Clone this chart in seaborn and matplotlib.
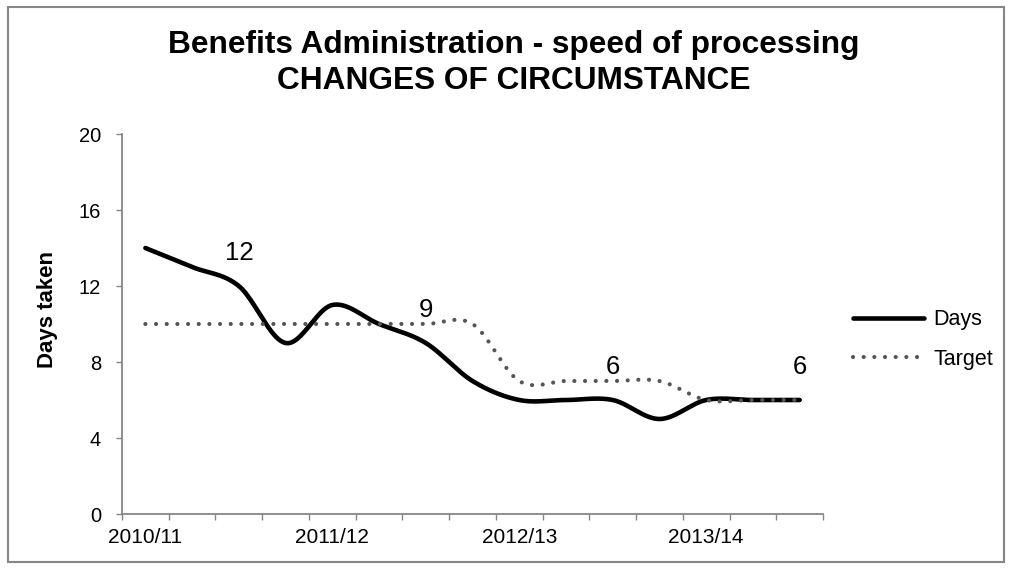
import numpy as np
import pandas as pd
import seaborn as sns
import matplotlib.pyplot as plt
from matplotlib.patches import Rectangle

# quarterly figures, 2010/11 Q1 .. 2013/14 Q3
quarters = [f"{y} Q{q}" for y in ["2010/11", "2011/12", "2012/13", "2013/14"] for q in range(1, 5)][:15]
tick_labels = ["2010/11", "", "", "", "2011/12", "", "", "", "2012/13", "", "", "", "2013/14", "", ""]
days = [14, 13, 12, 9, 11, 10, 9, 7, 6, 6, 6, 5, 6, 6, 6]
target = [10, 10, 10, 10, 10, 10, 10, 10, 7, 7, 7, 7, 6, 6, 6]
labelled = [2, 6, 10, 14]


def smooth(values, n=40):
    # catmull-rom curve through the points, like excel's smoothed line
    x = np.arange(len(values), dtype=float)
    y = np.asarray(values, dtype=float)
    px = np.r_[x[0], x, x[-1]]
    py = np.r_[y[0], y, y[-1]]
    t = np.linspace(0, 1, n, endpoint=False)
    h00 = 2 * t**3 - 3 * t**2 + 1
    h10 = t**3 - 2 * t**2 + t
    h01 = -2 * t**3 + 3 * t**2
    h11 = t**3 - t**2
    xs, ys = [], []
    for i in range(1, len(px) - 2):
        for p, out in ((px, xs), (py, ys)):
            m0 = (p[i + 1] - p[i - 1]) / 2
            m1 = (p[i + 2] - p[i]) / 2
            out.append(h00 * p[i] + h10 * m0 + h01 * p[i + 1] + h11 * m1)
    xs.append([x[-1]])
    ys.append([y[-1]])
    return pd.DataFrame({"x": np.concatenate(xs), "value": np.concatenate(ys)})


sns.set_style("white")
plt.rcParams["font.family"] = ["Liberation Sans", "DejaVu Sans"]
plt.rcParams.update({"text.color": "black", "xtick.labelcolor": "black",
                     "ytick.labelcolor": "black"})

fig = plt.figure(figsize=(10.11, 5.68), dpi=100)
ax = fig.add_axes([122 / 1011, 54 / 568, 701 / 1011, 380 / 568])

sns.lineplot(data=smooth(days), x="x", y="value", ax=ax, color="black", lw=3.3,
             sort=False, estimator=None, label="Days", solid_capstyle="round")
sns.lineplot(data=smooth(target), x="x", y="value", ax=ax, color="#555555", lw=3.0,
             sort=False, estimator=None, label="Target",
             linestyle=(0, (0.01, 2.55)), dash_capstyle="round")

for i in labelled:
    ax.annotate(str(days[i]), (i, days[i]), xytext=(0, 24), textcoords="offset points",
                ha="center", va="center", fontsize=18.5)

ax.set_xlim(-0.5, len(days) - 0.5)
ax.set_ylim(0, 20)
ax.set_yticks(range(0, 21, 4))
ax.set_xticks(range(len(days)))
ax.set_xticklabels(tick_labels)
ax.set_xticks(np.arange(-0.5, len(days), 1), minor=True)
ax.tick_params(axis="x", which="major", bottom=True, length=0, pad=10, labelsize=15)
ax.tick_params(axis="x", which="minor", bottom=True, length=4, width=1, color="#868686",
               direction="out")
ax.tick_params(axis="y", left=True, length=4, width=1, color="#868686", direction="out",
               pad=11, labelsize=14.5)
ax.set_xlabel("")
ax.set_ylabel("")
for side in ["top", "right"]:
    ax.spines[side].set_visible(False)
for side in ["left", "bottom"]:
    ax.spines[side].set_color("#868686")
    ax.spines[side].set_linewidth(1.3)

fig.text(514 / 1011, 1 - 53 / 568, "Benefits Administration - speed of processing",
         ha="center", va="baseline", fontsize=22.8, fontweight="bold")
fig.text(514 / 1011, 1 - 89 / 568, "CHANGES OF CIRCUMSTANCE",
         ha="center", va="baseline", fontsize=22.8, fontweight="bold")
fig.text(47 / 1011, 1 - 309 / 568, "Days taken", rotation=90, ha="center", va="center",
         fontsize=16, fontweight="bold")

ax.legend(handles=ax.get_lines(), labels=["Days", "Target"], loc="center left",
          bbox_to_anchor=(853 / 1011, 1 - 339.5 / 568), bbox_transform=fig.transFigure,
          frameon=False, fontsize=15.5, handlelength=3.3, handletextpad=0.45,
          labelspacing=0.85, borderpad=0, borderaxespad=0)

fig.add_artist(Rectangle((8 / 1011, 6 / 568), 996 / 1011, 555 / 568, transform=fig.transFigure,
                         fill=False, edgecolor="#868686", lw=1.5))

fig.savefig("out.png", dpi=100)
plt.close(fig)
